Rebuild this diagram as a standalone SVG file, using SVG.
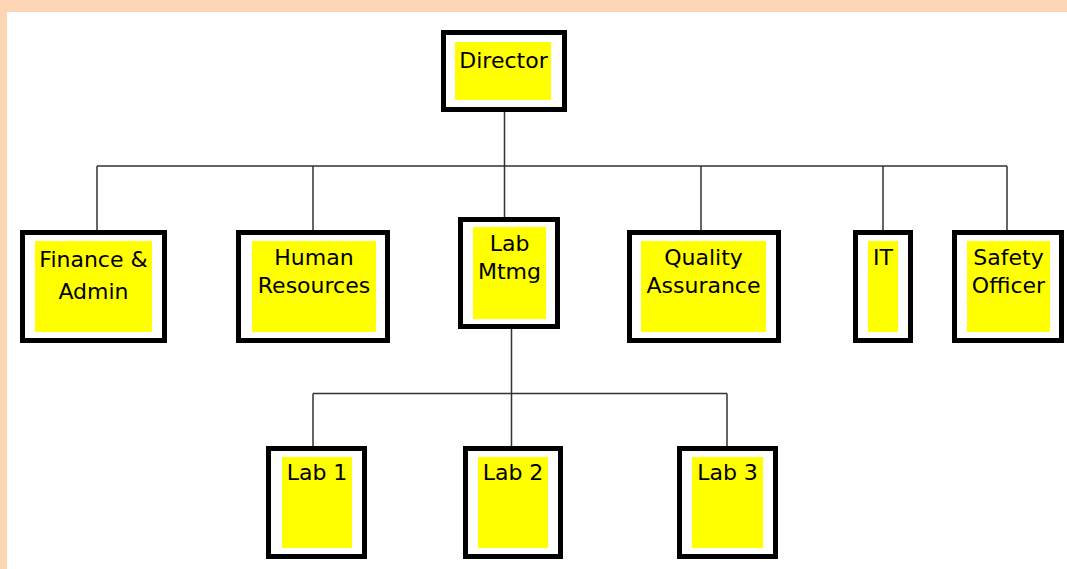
<svg xmlns="http://www.w3.org/2000/svg" width="1067" height="569" viewBox="0 0 1067 569">
<style>
.box{fill:#ffffff;stroke:#000000;stroke-width:5}
.fill{fill:#ffff00}
.lbl{font-family:"DejaVu Sans","Verdana",sans-serif;font-size:22px;fill:#000000;text-anchor:middle}
.conn{stroke:#333333;stroke-width:1.5;fill:none}
</style>
<rect x="0" y="0" width="1067" height="569" fill="#ffffff"/>
<rect x="0" y="0" width="1067" height="12" fill="#fcd5b4"/>
<rect x="0" y="0" width="7" height="569" fill="#fcd5b4"/>
<g id="connectors">
<path class="conn" d="M504.5,112 V217 M97,166 H1007 M97,166 V230 M313,166 V230 M701,166 V230 M883,166 V230 M1007,166 V230"/>
<path class="conn" d="M511.5,329 V446 M313,393.5 H727 M313,393.5 V446 M727,393.5 V446"/>
</g>
<g id="director">
<rect class="box" x="443.5" y="32.5" width="121" height="77"/>
<rect class="fill" x="455" y="42" width="96" height="58"/>
<text class="lbl" x="503.5" y="68">Director</text>
</g>
<g id="finance">
<rect class="box" x="22.5" y="232.5" width="142" height="108"/>
<rect class="fill" x="35" y="241" width="117" height="91"/>
<text class="lbl" x="93.5" y="267">Finance &amp;</text>
<text class="lbl" x="93.5" y="299">Admin</text>
</g>
<g id="hr">
<rect class="box" x="238.5" y="232.5" width="149" height="108"/>
<rect class="fill" x="252" y="241" width="124" height="91"/>
<text class="lbl" x="314" y="265">Human</text>
<text class="lbl" x="314" y="293">Resources</text>
</g>
<g id="labmtmg">
<rect class="box" x="460.5" y="219.5" width="97" height="107"/>
<rect class="fill" x="473" y="227" width="73" height="92"/>
<text class="lbl" x="509.5" y="251">Lab</text>
<text class="lbl" x="509.5" y="279">Mtmg</text>
</g>
<g id="qa">
<rect class="box" x="629.5" y="232.5" width="149" height="108"/>
<rect class="fill" x="641" y="241" width="125" height="91"/>
<text class="lbl" x="703.5" y="265">Quality</text>
<text class="lbl" x="703.5" y="293">Assurance</text>
</g>
<g id="it">
<rect class="box" x="855.5" y="232.5" width="55" height="108"/>
<rect class="fill" x="868" y="241" width="30" height="91"/>
<text class="lbl" x="883" y="265">IT</text>
</g>
<g id="safety">
<rect class="box" x="954.5" y="232.5" width="107" height="108"/>
<rect class="fill" x="967" y="241" width="83" height="91"/>
<text class="lbl" x="1008.5" y="265">Safety</text>
<text class="lbl" x="1008.5" y="293">Officer</text>
</g>
<g id="lab1">
<rect class="box" x="268.5" y="448.5" width="96" height="108"/>
<rect class="fill" x="282" y="457" width="70" height="91"/>
<text class="lbl" x="317" y="480">Lab 1</text>
</g>
<g id="lab2">
<rect class="box" x="465.5" y="448.5" width="95" height="108"/>
<rect class="fill" x="478" y="457" width="70" height="91"/>
<text class="lbl" x="513" y="480">Lab 2</text>
</g>
<g id="lab3">
<rect class="box" x="679.5" y="448.5" width="96" height="108"/>
<rect class="fill" x="692" y="457" width="71" height="91"/>
<text class="lbl" x="727.5" y="480">Lab 3</text>
</g>
</svg>
